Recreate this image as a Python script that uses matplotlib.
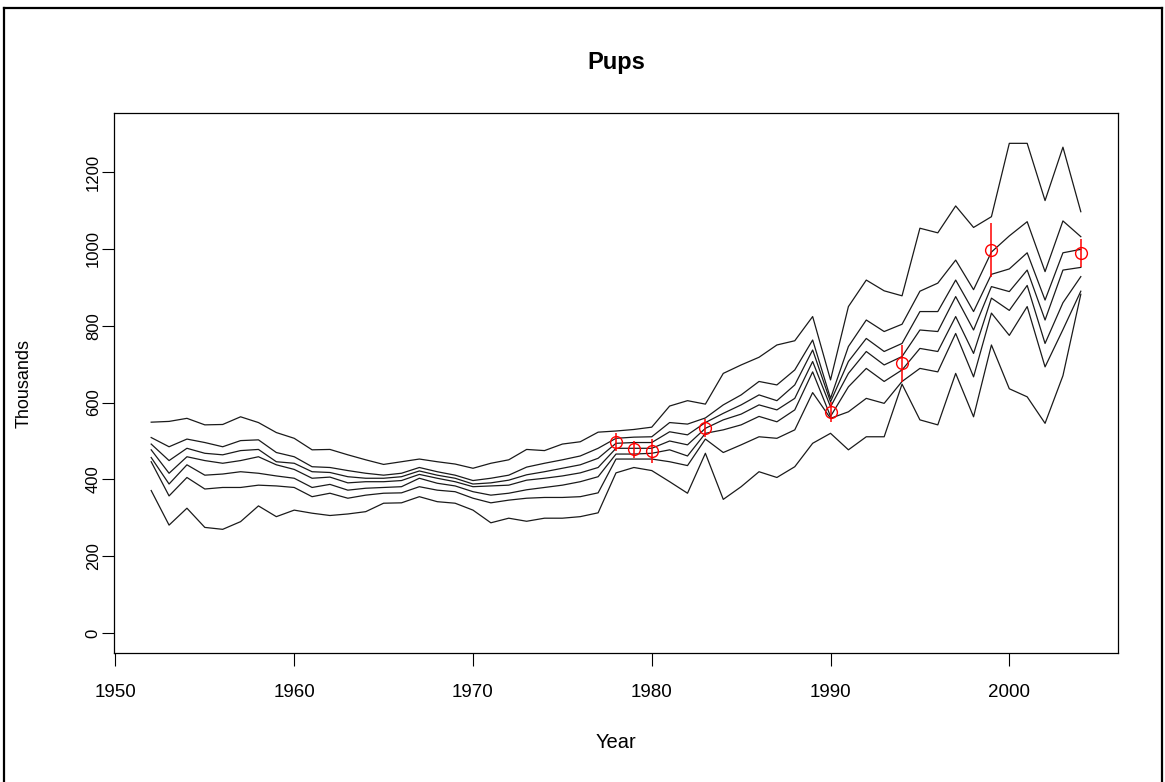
import numpy as np
import matplotlib
matplotlib.use("Agg")
import matplotlib.pyplot as plt
from matplotlib.lines import Line2D

plt.rcParams['font.family'] = ['Liberation Sans', 'DejaVu Sans']

years = np.arange(1952, 2005)

# Simulated pup production quantiles (thousands), highest to lowest
q_top = [549, 551, 559, 542, 543, 563, 548, 522, 507, 477, 478, 464, 451, 439, 446, 453, 446, 440, 429, 442,
         451, 478, 475, 492, 498, 523, 526, 530, 536, 591, 605, 596, 676, 698, 718, 750, 761, 824, 659, 850,
         919, 891, 878, 1054, 1042, 1112, 1056, 1084, 1275, 1275, 1126, 1265, 1097]
q_2 = [509, 485, 505, 496, 485, 501, 503, 470, 459, 433, 431, 423, 416, 411, 416, 431, 420, 411, 397, 403,
       411, 432, 442, 451, 461, 481, 507, 510, 511, 548, 544, 560, 594, 620, 655, 646, 685, 763, 611, 746,
       815, 785, 804, 890, 911, 971, 894, 992, 1034, 1071, 941, 1073, 1032]
q_3 = [492, 449, 481, 468, 464, 475, 478, 446, 442, 420, 418, 407, 403, 403, 407, 422, 411, 403, 388, 391,
       398, 412, 420, 429, 438, 455, 494, 496, 496, 524, 516, 548, 572, 594, 620, 605, 646, 737, 602, 707,
       767, 733, 754, 837, 837, 919, 837, 934, 948, 990, 867, 990, 999]
q_4 = [477, 416, 459, 449, 442, 449, 459, 438, 426, 403, 406, 391, 394, 394, 397, 413, 403, 394, 381, 383,
       385, 398, 403, 409, 417, 431, 481, 481, 481, 500, 490, 533, 555, 570, 594, 581, 611, 707, 589, 676,
       733, 698, 720, 789, 785, 876, 789, 902, 889, 945, 815, 945, 952]
q_5 = [457, 388, 438, 411, 414, 420, 416, 409, 403, 379, 387, 372, 377, 379, 381, 403, 390, 383, 368, 359,
       364, 373, 379, 385, 394, 407, 466, 466, 468, 477, 461, 520, 529, 542, 564, 550, 581, 680, 564, 641,
       689, 655, 685, 741, 733, 824, 728, 872, 840, 905, 754, 860, 928]
q_6 = [446, 357, 405, 375, 379, 379, 385, 383, 379, 355, 364, 351, 359, 364, 365, 381, 372, 368, 351, 339,
       346, 351, 353, 353, 355, 365, 453, 453, 453, 446, 436, 505, 470, 490, 511, 507, 529, 626, 559, 576,
       611, 598, 655, 689, 680, 780, 667, 833, 775, 850, 693, 790, 890]
q_bottom = [371, 281, 325, 275, 270, 290, 331, 303, 320, 312, 306, 310, 316, 338, 339, 355, 342, 338, 320, 287,
            299, 291, 299, 299, 303, 313, 417, 431, 423, 394, 364, 468, 348, 381, 420, 405, 433, 494, 520, 477,
            511, 511, 648, 555, 542, 676, 563, 750, 636, 615, 546, 670, 882]

# Survey estimates with +/- error
survey_years = [1978, 1979, 1980, 1983, 1990, 1994, 1999, 2004]
survey_est = [498, 478, 474, 533, 576, 702, 998, 990]
survey_err = [23, 21, 31, 23, 26, 48, 70, 37]

fig = plt.figure(figsize=(11.65, 7.82), dpi=100)
ax = fig.add_axes([114 / 1165, 129 / 782, 1004 / 1165, 540 / 782])

for q in [q_top, q_2, q_3, q_4, q_5, q_6, q_bottom]:
    ax.plot(years, q, color='#1a1a1a', lw=0.9)

ax.errorbar(survey_years, survey_est, yerr=survey_err, fmt='none', ecolor='red', elinewidth=1.1, capsize=0)
ax.plot(survey_years, survey_est, 'o', mfc='none', mec='red', ms=8.5, mew=1.0)

ax.set_xlim(1949.92, 2006.08)
ax.set_ylim(-52, 1354)
ax.set_xticks([1950, 1960, 1970, 1980, 1990, 2000])
ax.set_yticks([0, 200, 400, 600, 800, 1000, 1200])
ax.tick_params(direction='out', length=9, width=0.8)
ax.tick_params(axis='x', labelsize=13.5, pad=13)
ax.tick_params(axis='y', labelsize=12, pad=0.5)
for lbl in ax.get_yticklabels():
    lbl.set_rotation(90)
    lbl.set_va('center')
for s in ax.spines.values():
    s.set_linewidth(0.9)

fig.text(616 / 1165, 1 - 62 / 782, "Pups", fontsize=17, fontweight='bold', ha='center', va='center')
ax.set_xlabel("Year", fontsize=14.5, va='center')
ax.xaxis.set_label_coords(0.5, (653 - 743) / 540)
ax.set_ylabel("Thousands", fontsize=13, va='center')
ax.yaxis.set_label_coords((24 - 114) / 1004, 0.5)

# border around the figure (left, top, right)
for xs, ys in [([4, 4], [0, 774]), ([4, 1162], [774, 774]), ([1162, 1162], [0, 774])]:
    fig.add_artist(Line2D(np.array(xs) / 1165, np.array(ys) / 782, color='black', lw=1.6))

fig.savefig("out.png", dpi=100)
